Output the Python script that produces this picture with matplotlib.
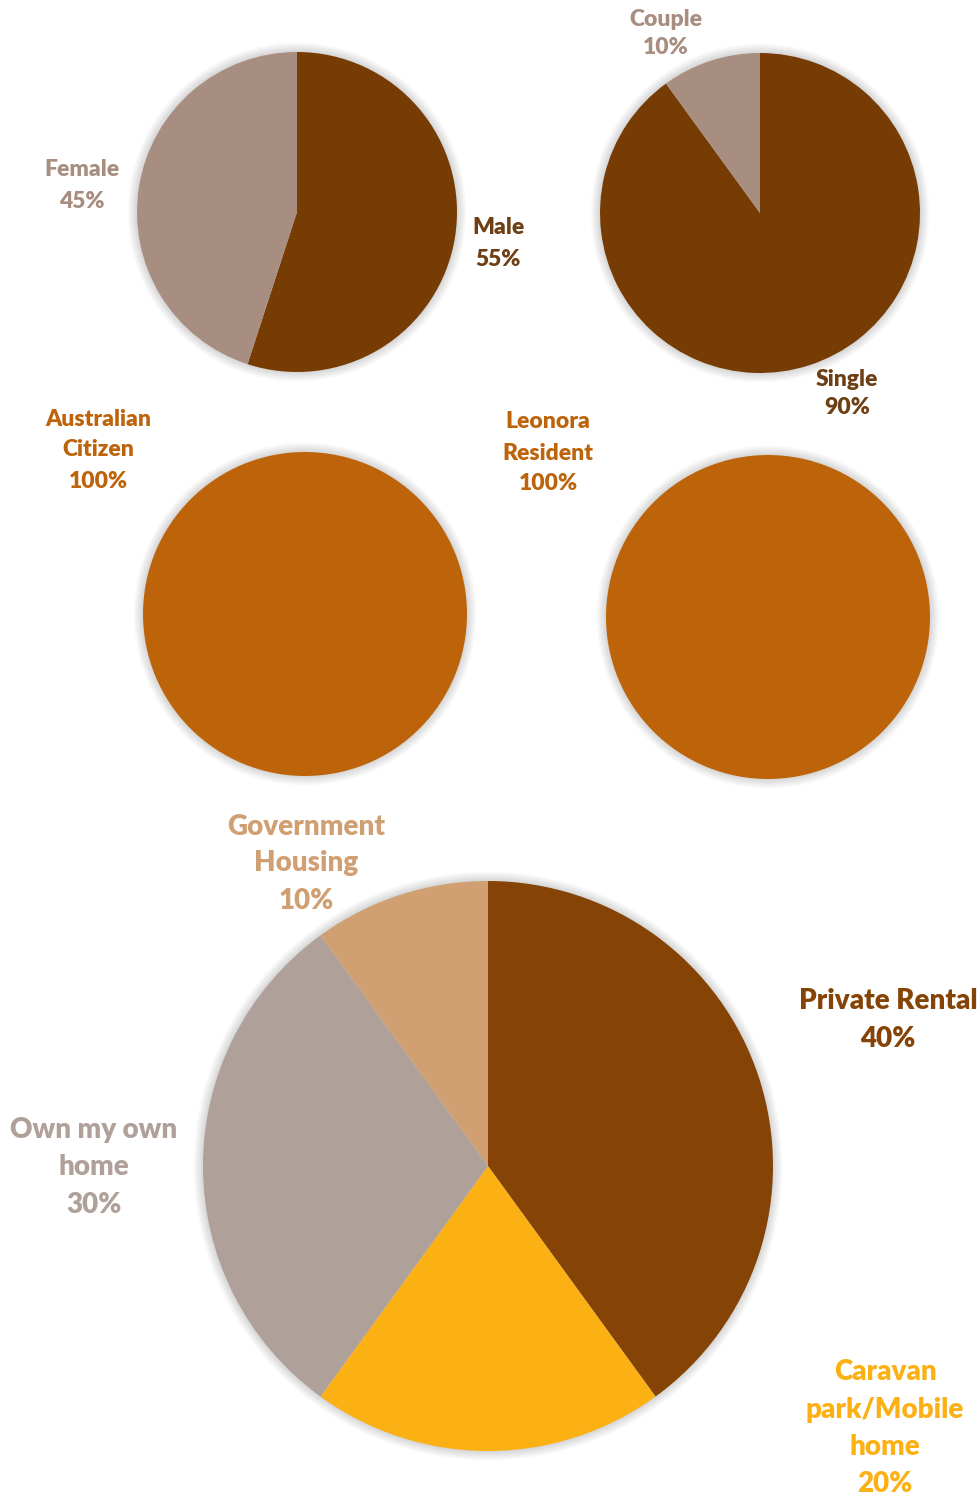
import matplotlib.pyplot as plt
from matplotlib.patches import Circle

W, H = 980, 1495

# data
gender_labels = ['Male', 'Female']
gender_values = [55, 45]
status_labels = ['Single', 'Couple']
status_values = [90, 10]
citizen_labels = ['Australian Citizen']
citizen_values = [100]
resident_labels = ['Leonora Resident']
resident_values = [100]
housing_labels = ['Private Rental', 'Caravan park/Mobile home', 'Own my own home', 'Government Housing']
housing_values = [40, 20, 30, 10]

fig = plt.figure(figsize=(W / 100, H / 100), dpi=100)
ax = fig.add_axes([0, 0, 1, 1])


def py(y):
    return H - y


def draw_pie(values, colors, cx, cy, r):
    # soft shadow
    for i in range(8):
        ax.add_patch(Circle((cx, py(cy)), r + 1 + i * 1.2, color='#000000',
                            alpha=0.02, lw=0, zorder=1))
    ax.pie(values, colors=colors, startangle=90, counterclock=False,
           center=(cx, py(cy)), radius=r, frame=True,
           wedgeprops={'linewidth': 0, 'zorder': 2})


def label(lines, x, ys, color, size):
    for t, y in zip(lines, ys):
        ax.text(x, py(y), t, ha='center', va='center', color=color,
                fontsize=size, fontweight='heavy', family='Lato')


draw_pie(gender_values, ['#763C04', '#A88E80'], 297, 212, 160)
draw_pie(status_values, ['#763C04', '#A88E80'], 760, 213, 160)
draw_pie(citizen_values, ['#BD640B'], 305, 614, 162)
draw_pie(resident_values, ['#BD640B'], 768, 617, 162)
draw_pie(housing_values, ['#854405', '#FBB014', '#AFA09A', '#D09F72'], 488, 1166, 285)

s1 = 16.5
label(['Female', '45%'], 82, [170, 201], '#A88E80', s1)
label(['Male', '55%'], 498, [227, 259], '#6E3E14', s1)
label(['Couple', '10%'], 666, [20, 48], '#A88E80', s1)
label(['Single', '90%'], 847, [380, 407], '#6E3E14', s1)
label(['Australian', 'Citizen', '100%'], 98, [419, 450, 481], '#BD640B', s1)
label(['Leonora', 'Resident', '100%'], 548, [421, 453, 484], '#BD640B', s1)

s2 = 20
label(['Government', 'Housing', '10%'], 306, [827, 863, 901], '#D09F72', s2)
label(['Private Rental', '40%'], 888, [1001, 1039], '#854405', s2)
label(['Own my own', 'home', '30%'], 94, [1130, 1167, 1205], '#AFA09A', s2)
label(['Caravan', 'park/Mobile', 'home', '20%'], 885, [1372, 1410, 1447, 1484], '#FBB014', s2)

ax.set_xlim(0, W)
ax.set_ylim(0, H)
ax.set_aspect('equal')
ax.axis('off')

fig.savefig('out.png', dpi=100)
